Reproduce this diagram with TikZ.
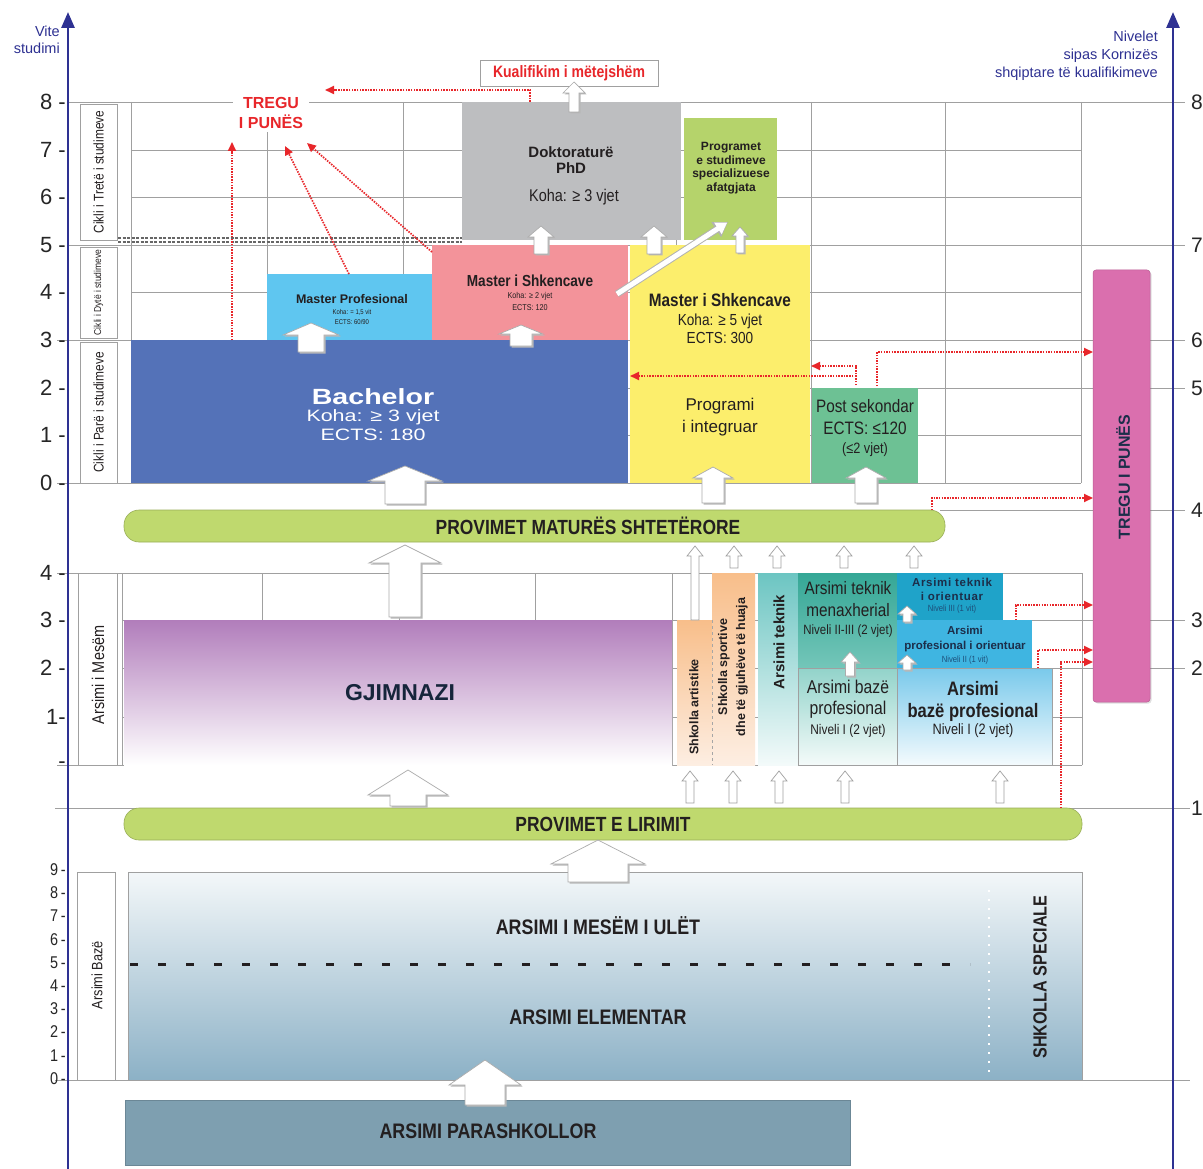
\documentclass[tikz,border=0pt]{standalone}
\usepackage{fontspec}
\setmainfont{Liberation Sans}
\newfontfamily\cf{Liberation Sans}[FakeStretch=0.85]
\newfontfamily\wf{Liberation Sans}[FakeStretch=1.3]
\usetikzlibrary{arrows.meta,fit,shadows}
\newcommand\fz[2]{\fontsize{#1}{#2}\selectfont}
\definecolor{axb}{HTML}{2E3192}
\definecolor{gridc}{HTML}{A0A0A0}
\definecolor{redc}{HTML}{E8262A}
\definecolor{bachc}{HTML}{5472B8}
\definecolor{mpc}{HTML}{5FC6F0}
\definecolor{msc}{HTML}{F3939A}
\definecolor{yelc}{HTML}{FCEE6C}
\definecolor{dokc}{HTML}{BDBEC0}
\definecolor{progc}{HTML}{B5D36B}
\definecolor{postc}{HTML}{6DC194}
\definecolor{pillc}{HTML}{BFD96E}
\definecolor{pinkc}{HTML}{DA6FAE}
\definecolor{purc}{HTML}{B17DBB}
\definecolor{oranc}{HTML}{F8BE8A}
\definecolor{oranb}{HTML}{FDEEE2}
\definecolor{tealc}{HTML}{6CC5C2}
\definecolor{mendc}{HTML}{35A796}
\definecolor{menbc}{HTML}{74C6B9}
\definecolor{bplt}{HTML}{92D3CA}
\definecolor{tioc}{HTML}{1FA3C9}
\definecolor{pioc}{HTML}{3FB5E1}
\definecolor{bprt}{HTML}{79C9EB}
\definecolor{abt}{HTML}{F3F7F9}
\definecolor{abb}{HTML}{8CB1C6}
\definecolor{parc}{HTML}{7E9FB0}
\definecolor{txtc}{HTML}{231F20}
\definecolor{navyc}{HTML}{1C2E4A}
\definecolor{nivc}{HTML}{1D4F7A}
\newcommand\barr[6]{%
 \path[barrsh] (#1,#2) -- (#1+#5,#3) -- (#1+#6,#3) -- (#1+#6,#4) -- (#1-#6,#4) -- (#1-#6,#3) -- (#1-#5,#3) -- cycle;
 \path[barrf] (#1,#2) -- (#1+#5,#3) -- (#1+#6,#3) -- (#1+#6,#4) -- (#1-#6,#4) -- (#1-#6,#3) -- (#1-#5,#3) -- cycle;}
\newcommand\sarr[4]{%
 \path[sarrf] (#1,#2) -- (#1+8,#3) -- (#1+4,#3) -- (#1+4,#4) -- (#1-4,#4) -- (#1-4,#3) -- (#1-8,#3) -- cycle;}
\begin{document}
\begin{tikzpicture}[x=1pt,y=-1pt,
 box/.style={inner sep=0pt,outer sep=0pt,rectangle},
 grid/.style={draw=gridc,line width=0.8pt},
 lblbox/.style={box,draw=gridc,line width=0.8pt,fill=white},
 redarr/.style={draw=redc,line width=1.7pt,dash pattern=on 1.5pt off 1.2pt,-{Triangle[width=8pt,length=9pt]}},
 barrsh/.style={fill=black!28,xshift=1.5pt,yshift=-1.5pt},
 barrf/.style={fill=white,draw=gray!65,line width=0.7pt},
 sarrf/.style={fill=white,draw=gray!75,line width=0.7pt},
 tx/.style={text=txtc,inner sep=0pt,align=center},
 ytick/.style={anchor=east,inner sep=0pt,font=\fz{22}{24},text=black!85},
 ytickb/.style={anchor=east,inner sep=0pt,font=\cf\fz{17}{18},text=black!85},
 rtick/.style={anchor=west,inner sep=0pt,font=\fz{21}{23},text=black!85},
 pill/.style={box,rounded corners=15pt,fill=pillc,draw=pillc!80!black,line width=0.6pt}]
\useasboundingbox (0,0) rectangle (1203,1169);
\fill[white] (0,0) rectangle (1203,1169);
% ---------------- grid ----------------
\foreach \y in {150,197,292,435} \draw[grid] (131,\y) -- (1081,\y);
\draw[grid] (68,102) -- (1185,102);
\draw[grid] (68,245) -- (1185,245);
\draw[grid] (57,340) -- (1185,340);
\draw[grid] (131,388) -- (1185,388);
\draw[grid] (57,483) -- (1081,483);
\foreach \x in {131,267,403,540,676,811,945,1081} \draw[grid] (\x,102) -- (\x,483);
\draw[grid] (57,573) -- (1082,573);
\draw[grid] (57,765) -- (1082,765);
\foreach \y in {620,668,717} \draw[grid] (122,\y) -- (1082,\y);
\foreach \x in {122,262,399,535,672,1082} \draw[grid] (\x,573) -- (\x,765);
\draw[grid] (940,510) -- (1185,510);
\draw[grid] (1082,620) -- (1185,620);
\draw[grid] (1082,668) -- (1185,668);
\draw[grid] (55,808) -- (1190,808);
\draw[grid] (55,1080) -- (1190,1080);
\draw[gray!80!black,line width=1.1pt,dash pattern=on 3pt off 1.5pt] (118,238) -- (462,238);
\draw[gray!80!black,line width=1.1pt,dash pattern=on 3pt off 1.5pt] (118,242) -- (462,242);
% ---------------- axes ----------------
\draw[axb,line width=2.8pt,-{Triangle[width=13pt,length=16pt]}] (68,1169) -- (68,12);
\draw[axb,line width=2.8pt,-{Triangle[width=13pt,length=16pt]}] (1173,1169) -- (1173,12);
\node[anchor=east,align=right,inner sep=0pt,text=axb,font=\fz{14.5}{17}] (vite) at (60,40) {Vite\\studimi};
\node[anchor=east,align=right,inner sep=0pt,text=axb,font=\fz{14.5}{18}] (niv) at (1158,56) {Nivelet\\sipas Kornizës\\shqiptare të kualifikimeve};
\foreach \v/\y in {8/102,7/150,6/197,5/245,4/292,3/340,2/388,1/435,0/483} \node[ytick] at (66,\y) {\v\ -};
\foreach \v/\y in {4/573,3/620,2/668} \node[ytick] at (66,\y) {\v\ -};
\node[ytick] at (66,717) {1-};
\node[ytick] at (66,765) {-};
\foreach \v/\y in {9/870,8/893,7/916,6/940,5/963,4/986,3/1009,2/1032,1/1056,0/1079} \node[ytickb] at (66,\y) {\v\,-};
\foreach \v/\y in {8/102,7/245,6/340,5/388,4/510,3/620,2/668,1/808} \node[rtick] at (1191,\y) {\v};
% ---------------- left label boxes ----------------
\node[lblbox,fit={(80,104)(117,240)}] (c3) {};
\node[rotate=90,tx,font=\cf\fz{14}{15}] at (c3.center) {Cikli i Tretë i studimeve};
\node[lblbox,fit={(80,247)(117,338)}] (c2) {};
\node[rotate=90,tx,font=\cf\fz{10}{11}] at (c2.center) {Cikli i Dytë i studimeve};
\node[lblbox,fit={(80,342)(117,483)}] (c1) {};
\node[rotate=90,tx,font=\cf\fz{14}{15}] at (c1.center) {Cikli i Parë i studimeve};
\node[lblbox,fit={(78,573)(117,765)}] (lm) {};
\node[rotate=90,tx,font=\cf\fz{17}{18}] at (98,675) {Arsimi i Mesëm};
\node[lblbox,fit={(77,872)(115,1080)}] (lb) {};
\node[rotate=90,tx,font=\cf\fz{15}{16}] at (97,975) {Arsimi Bazë};
% ---------------- tertiary ----------------
\node[box,fill=dokc,fit={(462,102)(681,240)}] (dok) {};
\node[tx,font=\bfseries\fz{15}{16}] at (571,160) {Doktoraturë\\PhD};
\node[tx,font=\cf\fz{17}{18}] at (574,197) {Koha: ≥ 3 vjet};
\node[box,fill=progc,fit={(684,118)(777,240)}] (prog) {};
\node[tx,font=\bfseries\fz{12}{13.5}] at (731,168) {Programet\\e studimeve\\specializuese\\afatgjata};
\node[box,fill=mpc,fit={(267,274)(432,340)}] (mp) {};
\node[tx,font=\bfseries\fz{12.5}{14}] at (352,299) {Master Profesional};
\node[tx,font=\cf\fz{7}{10}] at (352,317) {Koha: = 1,5 vit\\ECTS: 60/90};
\node[box,fill=msc,fit={(432,245)(628,340)}] (ms) {};
\node[tx,font=\cf\bfseries\fz{16}{17}] at (530,281) {Master i Shkencave};
\node[tx,font=\cf\fz{8.5}{12}] at (530,301) {Koha: ≥ 2 vjet\\ECTS: 120};
\node[box,fill=bachc,fit={(131,340)(628,483)}] (bach) {};
\node[tx,text=white,font=\wf\bfseries\fz{22}{24}] at (373,397) {Bachelor};
\node[tx,text=white,font=\wf\fz{16.5}{18.5}] at (373,425) {Koha: ≥ 3 vjet\\ECTS: 180};
\node[box,fill=yelc,fit={(630,245)(810,483)}] (yel) {};
\node[tx,font=\cf\bfseries\fz{18}{19}] at (720,300) {Master i Shkencave};
\node[tx,font=\cf\fz{16}{18.5}] at (720,329) {Koha: ≥ 5 vjet\\ECTS: 300};
\node[tx,font=\fz{17}{22}] at (720,417) {Programi\\i integruar};
\node[box,fill=postc,fit={(812,388)(918,483)}] (post) {};
\node[tx,font=\cf\fz{18}{22}] at (865,417) {Post sekondar\\ECTS: ≤120};
\node[tx,font=\cf\fz{15}{16}] at (865,450) {(≤2 vjet)};
\node[box,rounded corners=3pt,fill=pinkc,draw=pinkc!85!black,line width=0.5pt,drop shadow={opacity=0.25,shadow xshift=1.5pt,shadow yshift=-1.5pt},fit={(1093,270)(1150,702)}] (tregu) {};
\node[rotate=90,tx,text=navyc,font=\bfseries\fz{16}{17}] at (1123,477) {TREGU I PUNËS};
\node[box,draw=gridc,line width=0.8pt,fill=white,fit={(480,60)(658,86)}] (kual) {};
\node[tx,text=redc,font=\cf\bfseries\fz{16.5}{17}] at (kual.center) {Kualifikim i mëtejshëm};
\node[tx,text=redc,fill=white,inner sep=3pt,minimum width=76pt,font=\bfseries\fz{16}{20}] (treg) at (271,113) {TREGU\\I PUNËS};
% ---------------- pills ----------------
\node[pill,fit={(124,510)(945,542)}] (mat) {};
\node[tx,font=\cf\bfseries\fz{20.5}{22}] at (588,526) {PROVIMET MATURËS SHTETËRORE};
\node[pill,fit={(124,808)(1082,840)}] (lir) {};
\node[tx,font=\cf\bfseries\fz{20.5}{22}] at (603,824) {PROVIMET E LIRIMIT};
% ---------------- secondary ----------------
\node[box,top color=purc,bottom color=white,fit={(124,620)(672,765)}] (gjim) {};
\node[tx,text=navyc!80!black,font=\bfseries\fz{23}{24}] at (400,693) {GJIMNAZI};
\node[box,top color=oranc,bottom color=oranb,fit={(677,620)(712,765)}] (art) {};
\node[rotate=90,tx,font=\bfseries\fz{12.5}{13}] at (694,707) {Shkolla artistike};
\node[box,top color=oranc,bottom color=oranb,fit={(712,573)(755,765)}] (sport) {};
\draw[gray!70,dashed,line width=0.7pt] (712,620) -- (712,765);
\node[rotate=90,tx,font=\bfseries\fz{12.5}{18}] at (733,667) {Shkolla sportive\\dhe të gjuhëve të huaja};
\node[box,top color=tealc,bottom color=tealc!8,fit={(758,573)(798,765)}] (tek) {};
\node[rotate=90,tx,font=\bfseries\fz{15}{16}] at (779,642) {Arsimi teknik};
\node[box,top color=mendc,bottom color=menbc,fit={(798,573)(897,668)}] (men) {};
\node[tx,font=\cf\fz{18}{21.5}] at (848,599) {Arsimi teknik\\menaxherial};
\node[tx,font=\cf\fz{13.5}{14}] at (848,631) {Niveli II-III (2 vjet)};
\node[box,top color=bplt,bottom color=bplt!10,draw=gridc,line width=0.6pt,fit={(798,668)(897,765)}] (bpl) {};
\node[tx,font=\cf\fz{18.5}{21.5}] at (848,699) {Arsimi bazë\\profesional};
\node[tx,font=\cf\fz{14}{15}] at (848,731) {Niveli I (2 vjet)};
\node[box,fill=tioc,fit={(897,573)(1003,620)}] (tio) {};
\node[tx,text=navyc,font=\bfseries\addfontfeature{LetterSpace=6}\fz{11.5}{14}] at (952,589) {Arsimi teknik\\i orientuar};
\node[tx,text=nivc,font=\cf\fz{9}{10}] at (952,609) {Niveli III (1 vit)};
\node[box,fill=pioc,fit={(897,620)(1032,668)}] (pio) {};
\node[tx,text=navyc,font=\bfseries\fz{11.5}{15}] at (965,639.5) {Arsimi\\profesional i orientuar};
\node[tx,text=nivc,font=\cf\fz{9}{10}] at (965,660) {Niveli II (1 vit)};
\node[box,top color=bprt,bottom color=bprt!8,draw=gridc,line width=0.6pt,fit={(897,668)(1052,765)}] (bpr) {};
\node[tx,font=\cf\bfseries\fz{19.5}{22}] at (973,701) {Arsimi\\bazë profesional};
\node[tx,font=\cf\fz{15}{16}] at (973,731) {Niveli I (2 vjet)};
% ---------------- basic ----------------
\node[box,top color=abt,bottom color=abb,draw=gridc,line width=0.6pt,fit={(128,872)(1082,1080)}] (baz) {};
\draw[txtc,line width=3pt,dash pattern=on 8pt off 20pt] (130,964) -- (970,964);
\draw[white,line width=1.6pt,dash pattern=on 2pt off 7pt] (989,890) -- (989,1072);
\node[tx,font=\cf\bfseries\fz{21}{22}] at (598,926) {ARSIMI I MESËM I ULËT};
\node[tx,font=\cf\bfseries\fz{21}{22}] at (598,1017) {ARSIMI ELEMENTAR};
\node[rotate=90,tx,font=\cf\bfseries\fz{19}{20}] at (1040,977) {SHKOLLA SPECIALE};
\node[box,fill=parc,draw=parc!85!black,line width=0.6pt,fit={(125,1100)(850,1165)}] (para) {};
\node[tx,font=\cf\bfseries\fz{21}{22}] at (488,1131) {ARSIMI PARASHKOLLOR};
% ---------------- block arrows ----------------
\barr{574}{82}{93}{112}{11}{5}
\barr{541}{226}{237}{254}{13}{7}
\barr{654}{226}{237}{254}{13}{7}
\barr{740}{227}{236}{253}{8}{4}
\barr{311}{323}{335}{352}{28}{13}
\barr{521}{325}{334}{346}{22}{11}
\barr{405}{466}{481}{504}{37}{20}
\barr{713}{467}{478}{503}{20}{11}
\barr{866}{467}{478}{503}{20}{11}
\barr{405}{545}{563}{617}{36}{16}
\barr{408}{770}{795}{806}{40}{18}
\barr{598}{840}{864}{882}{47}{30}
\barr{485}{1060}{1085}{1105}{36}{20}
\barr{850}{652}{662}{676}{9}{4.5}
\barr{907}{606}{614}{622}{9}{4}
\barr{907}{655}{663}{670}{9}{4}
\foreach \x in {734,777,844,914} {\sarr{\x}{546}{556}{568}}
\sarr{695}{546}{556}{620}
\foreach \x in {690,733,779,845,1000} {\sarr{\x}{771}{781}{803}}
\coordinate (dgs) at (617,294);
\coordinate (dge) at (728,222);
\draw[gray!60,line width=7pt,-{Triangle[width=17pt,length=14pt]}] (dgs) -- (dge);
\draw[white,line width=5pt,shorten >=1pt,-{Triangle[width=13pt,length=11pt]}] (dgs) -- (dge);
% ---------------- red dotted arrows ----------------
\coordinate (ra) at (530,102); \coordinate (rae) at (325,90);
\draw[redarr] (ra) |- (rae);
\coordinate (rb) at (232,340); \coordinate (rbe) at (232,142);
\draw[redarr] (rb) -- (rbe);
\coordinate (rc) at (349,274); \coordinate (rce) at (285,146);
\draw[redarr] (rc) -- (rce);
\coordinate (rd) at (432,252); \coordinate (rde) at (307,143);
\draw[redarr] (rd) -- (rde);
\coordinate (re) at (856,385); \coordinate (ree) at (811,366);
\draw[redarr] (re) |- (ree);
\coordinate (rf) at (856,376); \coordinate (rfe) at (630,376);
\draw[redarr] (rf) -- (rfe);
\coordinate (rg) at (877,386); \coordinate (rge) at (1093,352);
\draw[redarr] (rg) |- (rge);
\coordinate (rh) at (932,510); \coordinate (rhe) at (1093,498);
\draw[redarr] (rh) |- (rhe);
\coordinate (ri) at (1016,620); \coordinate (rie) at (1093,605);
\draw[redarr] (ri) |- (rie);
\coordinate (rj) at (1038,668); \coordinate (rje) at (1093,650);
\draw[redarr] (rj) |- (rje);
\coordinate (rk) at (1061,808); \coordinate (rke) at (1093,662);
\draw[redarr] (rk) |- (rke);
\end{tikzpicture}
\end{document}
